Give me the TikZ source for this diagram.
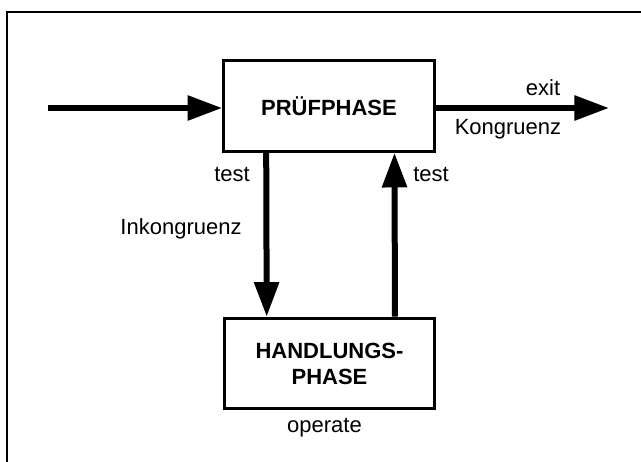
\documentclass[tikz,border=0pt]{standalone}
\usepackage{fontspec}
\setmainfont{Liberation Sans}
\usetikzlibrary{arrows.meta}

\begin{document}
\begin{tikzpicture}[x=0.75pt,y=-0.75pt,
  phase/.style={draw,line width=2.2pt,minimum width=158pt,minimum height=68pt,
    inner sep=0pt,align=center,font=\fontsize{16.5}{19.5}\selectfont\bfseries},
  lbl/.style={anchor=base,inner sep=0pt,font=\fontsize{16.5}{19.5}\selectfont},
  flow/.style={line width=4.5pt,-{Triangle[length=26pt,width=18pt]}}]
\useasboundingbox (0,0) rectangle (641,461);
\draw[line width=1pt] (7,12) rectangle (680,500);

\node[phase] (pruef) at (329,106) {PRÜFPHASE};
\node[phase] (hand) at (329.5,363.5) {HANDLUNGS-\\PHASE};

\coordinate (in) at (48,108);
\coordinate (out) at (609,108);
\draw[flow] (in) -- (in -| pruef.west);
\draw[flow] (pruef.east |- out) -- (out);
\draw[flow] ([xshift=33pt]pruef.south west) -- ([xshift=33pt]hand.north west);
\draw[flow] ([xshift=-31pt]hand.north east) -- ([xshift=-31pt]pruef.south east);

\node[lbl] (exit) at (543,95) {exit};
\node[lbl] (kong) at (508,134) {Kongruenz};
\node[lbl] (testl) at (232,181) {test};
\node[lbl] (testr) at (431,181) {test};
\node[lbl] (inkong) at (181,234) {Inkongruenz};
\node[lbl] (oper) at (324.5,432) {operate};
\end{tikzpicture}
\end{document}
